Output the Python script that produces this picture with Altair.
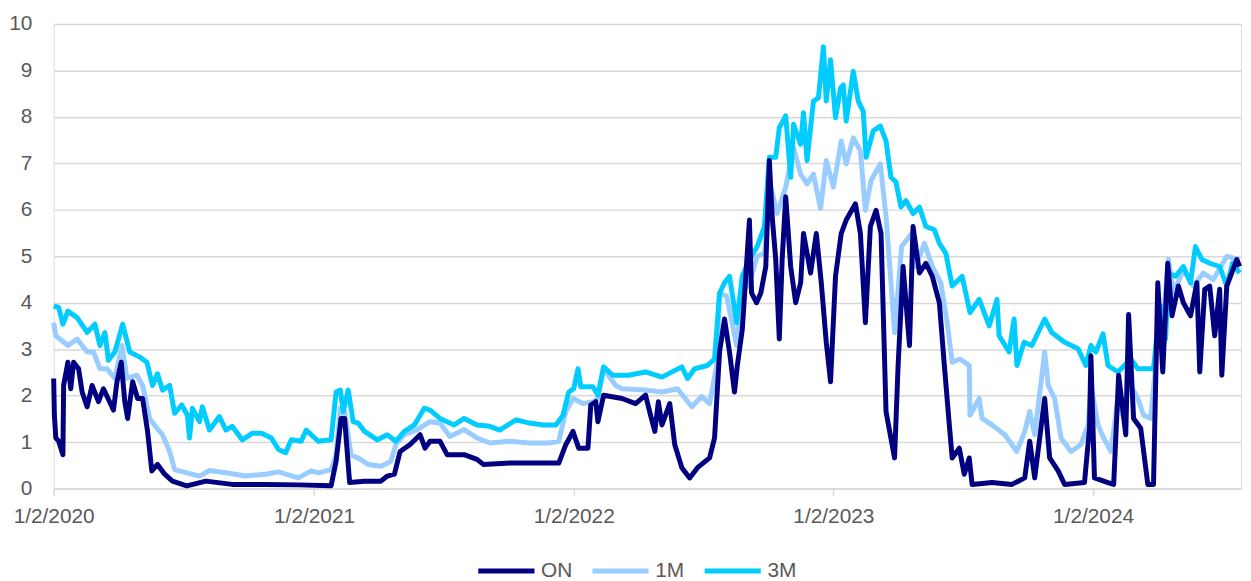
import altair as alt
import pandas as pd

START = "2020-01-02"

# Day offsets from 1/2/2020 and values (%)
on_days = [0, 1, 3, 7, 13, 14, 20, 24, 28, 35, 40, 47, 54, 63, 70, 84, 89, 95, 100, 104,
           111, 118, 125, 132, 138, 146, 156, 167, 187, 214, 251, 298, 344, 390, 397, 404,
           409, 416, 437, 460, 469, 479, 487, 501, 515, 522, 529, 543, 553, 577, 595, 604,
           641, 678, 710, 720, 730, 738, 751, 755, 762, 765, 773, 799, 818, 832, 839, 845,
           850, 855, 866, 873, 883, 894, 905, 922, 929, 936, 943, 950, 957, 961, 968, 978,
           981, 988, 994, 1001, 1006, 1010, 1015, 1020, 1024, 1029, 1036, 1043, 1050, 1054,
           1064, 1072, 1079, 1086, 1092, 1099, 1107, 1114, 1127, 1134, 1141, 1148, 1156,
           1163, 1170, 1182, 1187, 1194, 1203, 1208, 1217, 1226, 1235, 1245, 1252, 1259,
           1263, 1273, 1280, 1287, 1291, 1319, 1347, 1365, 1372, 1379, 1393, 1400, 1412,
           1421, 1449, 1456, 1458, 1463, 1482, 1490, 1497, 1507, 1511, 1518, 1528, 1538,
           1546, 1552, 1559, 1566, 1572, 1581, 1588, 1598, 1607, 1611, 1618, 1625, 1632,
           1639, 1642, 1649, 1663, 1667]
on_vals = [2.37, 1.58, 1.09, 1.02, 0.73, 2.22, 2.72, 2.15, 2.72, 2.58, 2.08, 1.76, 2.22, 1.87,
           2.15, 1.69, 2.30, 2.72, 1.87, 1.51, 2.30, 1.94, 1.94, 1.23, 0.38, 0.52, 0.31, 0.16,
           0.06, 0.16, 0.09, 0.09, 0.08, 0.06, 0.59, 1.51, 1.51, 0.13, 0.16, 0.16, 0.27, 0.31,
           0.80, 0.95, 1.16, 0.87, 1.02, 1.02, 0.73, 0.73, 0.63, 0.52, 0.55, 0.55, 0.55, 0.95,
           1.23, 0.87, 0.87, 1.80, 1.87, 1.44, 2.01, 1.94, 1.83, 2.01, 1.58, 1.23, 1.87, 1.37,
           1.83, 0.95, 0.45, 0.23, 0.45, 0.66, 1.09, 2.94, 3.65, 2.94, 2.08, 2.65, 3.43, 5.78,
           4.21, 4.00, 4.21, 4.78, 7.06, 5.85, 4.93, 3.22, 4.93, 6.28, 4.78, 4.00, 4.43, 5.49,
           4.64, 5.49, 4.43, 3.15, 2.30, 4.57, 5.49, 5.78, 6.13, 5.49, 3.57, 5.64, 5.99, 5.49,
           1.66, 0.66, 2.65, 4.78, 3.08, 5.64, 4.64, 4.85, 4.57, 4.00, 2.65, 1.37, 0.66, 0.87,
           0.31, 0.66, 0.09, 0.13, 0.09, 0.23, 1.02, 0.23, 1.94, 0.66, 0.38, 0.09, 0.13, 1.30,
           2.86, 0.23, 0.13, 0.09, 2.44, 1.16, 3.75, 1.51, 1.30, 0.09, 0.09, 4.43, 2.51, 4.85,
           3.72, 4.36, 4.00, 3.72, 4.43, 2.51, 4.29, 4.36, 3.29, 4.29, 2.44, 4.36, 4.93, 4.78]

m1_days = [0, 3, 20, 33, 47, 56, 65, 75, 86, 96, 103, 117, 125, 135, 145, 153, 163, 170, 187,
           205, 219, 242, 270, 298, 316, 344, 362, 372, 390, 397, 403, 409, 418, 428, 442,
           460, 474, 481, 493, 511, 529, 543, 557, 577, 595, 613, 641, 669, 696, 710, 720,
           730, 744, 758, 765, 773, 790, 799, 832, 855, 877, 897, 911, 922, 932, 936, 946,
           960, 968, 978, 989, 999, 1008, 1017, 1029, 1040, 1050, 1059, 1068, 1078, 1086,
           1096, 1107, 1114, 1124, 1134, 1141, 1149, 1162, 1170, 1177, 1182, 1192, 1206,
           1212, 1224, 1235, 1247, 1256, 1263, 1274, 1287, 1288, 1301, 1305, 1319, 1337,
           1354, 1365, 1372, 1379, 1393, 1398, 1407, 1416, 1430, 1444, 1454, 1458, 1468,
           1476, 1486, 1496, 1504, 1511, 1524, 1532, 1542, 1549, 1553, 1560, 1567, 1574,
           1588, 1602, 1616, 1630, 1649, 1667]
m1_vals = [3.57, 3.29, 3.08, 3.22, 2.94, 2.94, 2.58, 2.58, 2.37, 3.08, 2.37, 2.44, 2.22, 1.51,
           1.30, 1.16, 0.80, 0.41, 0.34, 0.27, 0.39, 0.34, 0.27, 0.31, 0.36, 0.23, 0.38, 0.34,
           0.41, 0.73, 1.73, 1.66, 0.73, 0.66, 0.52, 0.48, 0.59, 0.95, 1.16, 1.27, 1.44, 1.41,
           1.12, 1.27, 1.09, 0.98, 1.02, 0.98, 0.98, 1.02, 1.66, 1.94, 1.83, 1.87, 1.94, 2.58,
           2.22, 2.15, 2.12, 2.08, 2.15, 1.76, 1.98, 1.83, 2.65, 4.21, 4.14, 3.08, 4.21, 4.43,
           5.00, 5.07, 6.49, 5.92, 6.49, 7.34, 6.77, 6.56, 6.77, 6.03, 7.06, 6.49, 7.48, 6.99,
           7.55, 7.27, 5.99, 6.63, 6.99, 5.85, 4.43, 3.36, 5.21, 5.49, 4.78, 5.28, 4.78, 4.43,
           3.57, 2.72, 2.79, 2.65, 1.58, 1.94, 1.51, 1.37, 1.16, 0.80, 1.23, 1.66, 1.16, 2.94,
           2.22, 1.94, 1.09, 0.80, 0.95, 1.37, 2.22, 1.37, 1.09, 0.80, 1.94, 1.51, 2.30, 1.94,
           1.58, 1.51, 2.65, 4.00, 3.72, 4.93, 4.21, 4.71, 4.36, 4.64, 4.50, 5.00, 4.93]

m3_days = [0, 7, 13, 20, 33, 47, 58, 65, 72, 77, 86, 97, 107, 121, 131, 139, 146, 153, 163,
           170, 180, 188, 191, 195, 205, 209, 219, 233, 242, 251, 265, 279, 292, 306, 316,
           326, 334, 348, 355, 372, 390, 397, 403, 407, 414, 421, 428, 437, 455, 469, 481,
           493, 507, 521, 529, 543, 563, 577, 595, 613, 627, 650, 669, 688, 706, 716, 724,
           731, 737, 741, 758, 765, 773, 786, 808, 832, 855, 883, 891, 901, 919, 929, 936,
           943, 950, 960, 968, 978, 989, 999, 1006, 1015, 1020, 1029, 1036, 1040, 1050, 1054,
           1059, 1068, 1075, 1082, 1086, 1092, 1099, 1106, 1110, 1114, 1124, 1131, 1138,
           1142, 1152, 1162, 1170, 1177, 1184, 1191, 1198, 1208, 1217, 1226, 1238, 1245,
           1254, 1263, 1277, 1288, 1301, 1315, 1326, 1329, 1343, 1350, 1354, 1364, 1375,
           1393, 1403, 1421, 1440, 1451, 1458, 1465, 1475, 1482, 1496, 1514, 1524, 1546,
           1552, 1556, 1563, 1567, 1577, 1588, 1598, 1605, 1614, 1625, 1639, 1649, 1657, 1667]
m3_vals = [3.93, 3.90, 3.54, 3.82, 3.68, 3.36, 3.54, 3.08, 3.36, 2.76, 2.94, 3.54, 2.94, 2.83,
           2.72, 2.22, 2.47, 2.12, 2.22, 1.62, 1.80, 1.58, 1.09, 1.73, 1.44, 1.76, 1.26, 1.55,
           1.26, 1.34, 1.05, 1.19, 1.19, 1.09, 0.84, 0.77, 1.05, 1.02, 1.26, 1.02, 1.05, 2.08,
           2.12, 1.66, 2.12, 1.44, 1.41, 1.23, 1.05, 1.16, 1.02, 1.23, 1.37, 1.73, 1.69, 1.51,
           1.37, 1.51, 1.37, 1.34, 1.26, 1.48, 1.41, 1.37, 1.37, 1.58, 2.08, 2.15, 2.58, 2.19,
           2.19, 2.01, 2.62, 2.44, 2.44, 2.51, 2.40, 2.62, 2.37, 2.58, 2.65, 2.79, 4.21, 4.43,
           4.57, 3.57, 4.57, 4.93, 5.21, 5.64, 7.13, 7.13, 7.77, 8.02, 6.70, 7.84, 7.41, 8.09,
           7.06, 8.34, 8.41, 9.51, 8.34, 9.23, 7.98, 8.62, 8.69, 7.91, 8.98, 8.34, 8.12, 7.13,
           7.70, 7.80, 7.48, 6.70, 6.60, 6.06, 6.20, 5.92, 6.06, 5.64, 5.57, 5.28, 5.07, 4.36,
           4.57, 3.79, 4.07, 3.50, 4.07, 3.29, 2.94, 3.65, 2.65, 3.15, 3.08, 3.65, 3.36, 3.15,
           3.01, 2.65, 3.08, 2.94, 3.33, 2.65, 2.51, 2.79, 2.58, 2.58, 3.50, 3.93, 3.22, 4.64,
           4.57, 4.78, 4.43, 5.21, 4.93, 4.85, 4.78, 4.36, 4.85, 4.64]

series_names = ["ON", "1M", "3M"]
series_colors = ["#000080", "#99CCFF", "#00CCFF"]
tick_dates = ["2020-01-02", "2021-01-02", "2022-01-02", "2023-01-02", "2024-01-02"]
y_ticks = list(range(0, 11))

start = pd.Timestamp(START)
frames = []
for name, days, vals in [("ON", on_days, on_vals), ("1M", m1_days, m1_vals), ("3M", m3_days, m3_vals)]:
    d = start + pd.to_timedelta(days, unit="D")
    frames.append(pd.DataFrame({"date": d.strftime("%Y-%m-%d"), "value": vals, "series": name}))
df = pd.concat(frames, ignore_index=True)

def ms(s):
    return int(pd.Timestamp(s, tz="UTC").value // 10**6)

x_domain = [ms("2020-01-02"), ms("2024-07-28")]
x_values = [ms(t) for t in tick_dates]

FONT = "Liberation Sans"
GREY = "#595959"
GRID = "#d9d9d9"

x_enc = alt.X("date:T", title=None,
              scale=alt.Scale(type="utc", domain=x_domain, nice=False),
              axis=alt.Axis(values=x_values,
                            labelExpr="utcFormat(datum.value, '%-m/%-d/%Y')",
                            grid=False, domainColor=GRID, domainWidth=1.5,
                            tickColor=GRID, tickWidth=1.5, tickSize=7,
                            labelPadding=10, labelFont=FONT, labelFontSize=21,
                            labelColor=GREY, labelFlush=False, labelOverlap=False,
                            labelBound=False))
y_enc = alt.Y("value:Q", title=None,
              scale=alt.Scale(domain=[0, 10], nice=False),
              axis=alt.Axis(values=y_ticks, grid=True, gridColor=GRID, gridWidth=1.5,
                            domain=False, ticks=False, labelPadding=22,
                            labelFont=FONT, labelFontSize=21, labelColor=GREY,
                            minExtent=44, maxExtent=44))
color_enc = alt.Color("series:N",
                      scale=alt.Scale(domain=series_names, range=series_colors),
                      legend=alt.Legend(title=None, orient="none", direction="horizontal",
                                        legendX=425, legendY=520,
                                        symbolType="stroke", symbolSize=3200,
                                        symbolStrokeWidth=5, labelFont=FONT,
                                        labelFontSize=21, labelColor=GREY,
                                        labelOffset=4, columnPadding=9,
                                        symbolOpacity=1))

base = alt.Chart(df)
layers = []
for name in ["1M", "3M", "ON"]:
    layers.append(
        base.transform_filter(alt.datum.series == name)
        .mark_line(strokeWidth=5, strokeJoin="round", interpolate="linear")
        .encode(x=x_enc, y=y_enc, color=color_enc)
    )

chart = alt.layer(*layers).properties(
    width=1196, height=468,
    padding={"left": 0, "top": 3, "right": 0, "bottom": 0},
).configure_view(stroke=None).configure(background="white")

chart.save("out.html", embed_options={"renderer": "svg", "actions": False})
